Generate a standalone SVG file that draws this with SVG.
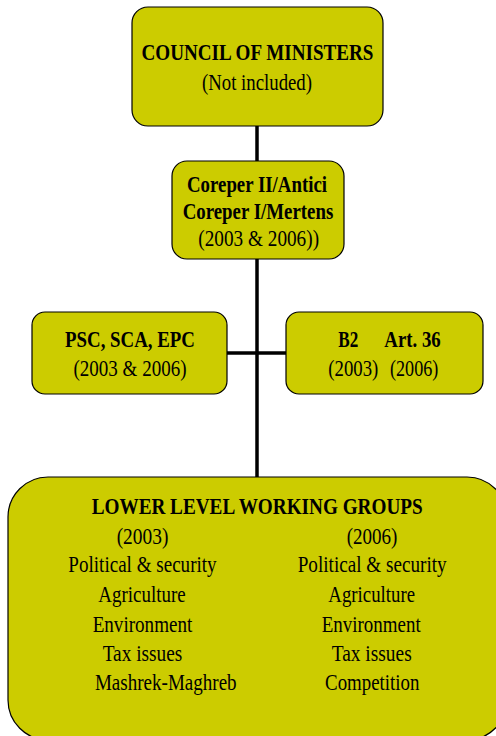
<svg xmlns="http://www.w3.org/2000/svg" width="496" height="736" viewBox="0 0 496 736">
<style>
.box{fill:#cccc00;stroke:#000;stroke-width:1.2}
.t{font-family:"Liberation Serif","Times New Roman",serif;font-size:23px;fill:#000;text-anchor:middle}
.b{font-weight:bold}
.s{text-anchor:start}
.c{stroke:#000;stroke-width:3.5;fill:none}
</style>
<rect width="496" height="736" fill="#fff"/>
<g id="connectors">
<line class="c" x1="257" y1="126" x2="257" y2="477"/>
<line class="c" x1="227" y1="353" x2="286" y2="353"/>
</g>
<g id="council">
<rect class="box" x="132" y="7" width="251" height="119" rx="16"/>
<text class="t b" x="257.5" y="60" textLength="232" lengthAdjust="spacingAndGlyphs">COUNCIL OF MINISTERS</text>
<text class="t" x="257" y="90" textLength="110" lengthAdjust="spacingAndGlyphs">(Not included)</text>
</g>
<g id="coreper">
<rect class="box" x="172" y="161" width="172" height="98" rx="15"/>
<text class="t b" x="257" y="192" textLength="140" lengthAdjust="spacingAndGlyphs">Coreper II/Antici</text>
<text class="t b" x="258" y="218.5" textLength="150.6" lengthAdjust="spacingAndGlyphs">Coreper I/Mertens</text>
<text class="t" x="258.7" y="246" textLength="120.7" lengthAdjust="spacingAndGlyphs">(2003 &amp; 2006))</text>
</g>
<g id="psc">
<rect class="box" x="32" y="312" width="195" height="82" rx="13"/>
<text class="t b" x="130" y="347" textLength="130" lengthAdjust="spacingAndGlyphs">PSC, SCA, EPC</text>
<text class="t" x="130" y="376" textLength="113" lengthAdjust="spacingAndGlyphs">(2003 &amp; 2006)</text>
</g>
<g id="b2">
<rect class="box" x="286" y="312" width="197" height="82" rx="13"/>
<text class="t b s" y="347"><tspan x="338.3" textLength="20" lengthAdjust="spacingAndGlyphs">B2</tspan><tspan x="384.3" textLength="56.4" lengthAdjust="spacingAndGlyphs">Art. 36</tspan></text>
<text class="t s" y="376"><tspan x="328.3" textLength="50" lengthAdjust="spacingAndGlyphs">(2003)</tspan><tspan x="390" textLength="48.3" lengthAdjust="spacingAndGlyphs">(2006)</tspan></text>
</g>
<g id="working-groups">
<rect class="box" x="8" y="477" width="499" height="263" rx="40"/>
<text class="t b" x="257.2" y="514" textLength="331" lengthAdjust="spacingAndGlyphs">LOWER LEVEL WORKING GROUPS</text>
<text class="t" x="142.5" y="544" textLength="51.7" lengthAdjust="spacingAndGlyphs">(2003)</text>
<text class="t" x="372" y="544" textLength="50.7" lengthAdjust="spacingAndGlyphs">(2006)</text>
<text class="t" x="142.5" y="572.3" textLength="148.3" lengthAdjust="spacingAndGlyphs">Political &amp; security</text>
<text class="t" x="372.2" y="572.3" textLength="149" lengthAdjust="spacingAndGlyphs">Political &amp; security</text>
<text class="t" x="142" y="602.3" textLength="87.3" lengthAdjust="spacingAndGlyphs">Agriculture</text>
<text class="t" x="371.7" y="602.3" textLength="86.7" lengthAdjust="spacingAndGlyphs">Agriculture</text>
<text class="t" x="142.5" y="631.7" textLength="99.7" lengthAdjust="spacingAndGlyphs">Environment</text>
<text class="t" x="371.2" y="631.7" textLength="99" lengthAdjust="spacingAndGlyphs">Environment</text>
<text class="t" x="142.5" y="661" textLength="79.7" lengthAdjust="spacingAndGlyphs">Tax issues</text>
<text class="t" x="371.7" y="661" textLength="80" lengthAdjust="spacingAndGlyphs">Tax issues</text>
<text class="t" x="165.8" y="690" textLength="141.7" lengthAdjust="spacingAndGlyphs">Mashrek-Maghreb</text>
<text class="t" x="372.2" y="690" textLength="94.3" lengthAdjust="spacingAndGlyphs">Competition</text>
</g>
</svg>
